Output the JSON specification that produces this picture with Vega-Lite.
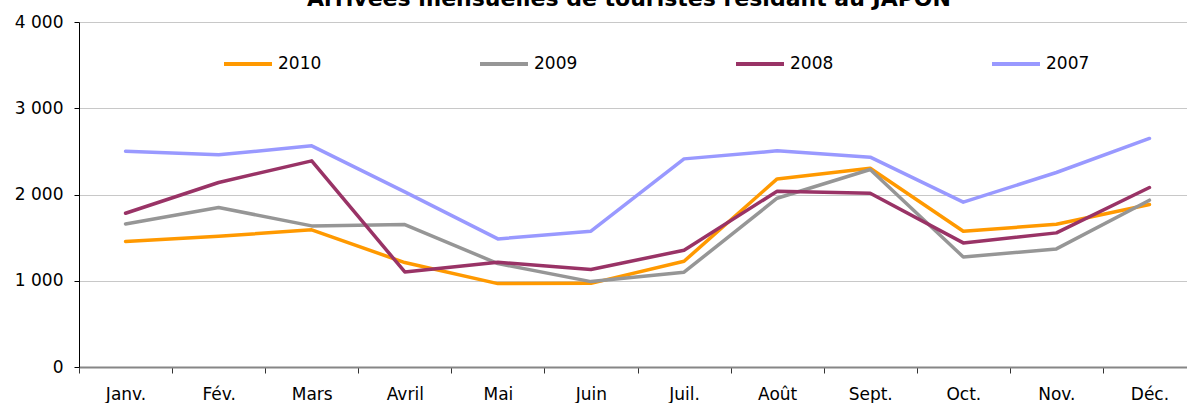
{
  "$schema": "https://vega.github.io/schema/vega-lite/v6.json",
  "autosize": {"type": "none"},
  "width": 1108,
  "height": 345,
  "padding": {"left": 79, "top": 22, "right": 0, "bottom": 36},
  "background": "white",
  "title": {
    "text": "Arrivées mensuelles de touristes résidant au JAPON",
    "font": "DejaVu Sans",
    "fontSize": 22,
    "fontWeight": "bold",
    "color": "#000000",
    "anchor": "middle",
    "frame": "group",
    "dx": -4,
    "baseline": "alphabetic",
    "offset": -15
  },
  "config": {"view": {"stroke": null}, "font": "DejaVu Sans"},
  "data": {
    "values": [
      {"mois": "Janv.", "annee": "2010", "arrivees": 1455},
      {"mois": "Fév.", "annee": "2010", "arrivees": 1516},
      {"mois": "Mars", "annee": "2010", "arrivees": 1590},
      {"mois": "Avril", "annee": "2010", "arrivees": 1211},
      {"mois": "Mai", "annee": "2010", "arrivees": 967},
      {"mois": "Juin", "annee": "2010", "arrivees": 970},
      {"mois": "Juil.", "annee": "2010", "arrivees": 1226},
      {"mois": "Août", "annee": "2010", "arrivees": 2181},
      {"mois": "Sept.", "annee": "2010", "arrivees": 2305},
      {"mois": "Oct.", "annee": "2010", "arrivees": 1574},
      {"mois": "Nov.", "annee": "2010", "arrivees": 1655},
      {"mois": "Déc.", "annee": "2010", "arrivees": 1884},
      {"mois": "Janv.", "annee": "2009", "arrivees": 1659},
      {"mois": "Fév.", "annee": "2009", "arrivees": 1849},
      {"mois": "Mars", "annee": "2009", "arrivees": 1636},
      {"mois": "Avril", "annee": "2009", "arrivees": 1652},
      {"mois": "Mai", "annee": "2009", "arrivees": 1199},
      {"mois": "Juin", "annee": "2009", "arrivees": 990},
      {"mois": "Juil.", "annee": "2009", "arrivees": 1099},
      {"mois": "Août", "annee": "2009", "arrivees": 1957},
      {"mois": "Sept.", "annee": "2009", "arrivees": 2290},
      {"mois": "Oct.", "annee": "2009", "arrivees": 1276},
      {"mois": "Nov.", "annee": "2009", "arrivees": 1369},
      {"mois": "Déc.", "annee": "2009", "arrivees": 1934},
      {"mois": "Janv.", "annee": "2008", "arrivees": 1783},
      {"mois": "Fév.", "annee": "2008", "arrivees": 2139},
      {"mois": "Mars", "annee": "2008", "arrivees": 2390},
      {"mois": "Avril", "annee": "2008", "arrivees": 1102},
      {"mois": "Mai", "annee": "2008", "arrivees": 1215},
      {"mois": "Juin", "annee": "2008", "arrivees": 1130},
      {"mois": "Juil.", "annee": "2008", "arrivees": 1354},
      {"mois": "Août", "annee": "2008", "arrivees": 2038},
      {"mois": "Sept.", "annee": "2008", "arrivees": 2015},
      {"mois": "Oct.", "annee": "2008", "arrivees": 1439},
      {"mois": "Nov.", "annee": "2008", "arrivees": 1555},
      {"mois": "Déc.", "annee": "2008", "arrivees": 2081},
      {"mois": "Janv.", "annee": "2007", "arrivees": 2502},
      {"mois": "Fév.", "annee": "2007", "arrivees": 2460},
      {"mois": "Mars", "annee": "2007", "arrivees": 2564},
      {"mois": "Avril", "annee": "2007", "arrivees": 2030},
      {"mois": "Mai", "annee": "2007", "arrivees": 1485},
      {"mois": "Juin", "annee": "2007", "arrivees": 1574},
      {"mois": "Juil.", "annee": "2007", "arrivees": 2413},
      {"mois": "Août", "annee": "2007", "arrivees": 2506},
      {"mois": "Sept.", "annee": "2007", "arrivees": 2433},
      {"mois": "Oct.", "annee": "2007", "arrivees": 1911},
      {"mois": "Nov.", "annee": "2007", "arrivees": 2255},
      {"mois": "Déc.", "annee": "2007", "arrivees": 2650}
    ]
  },
  "mark": {"type": "line", "strokeWidth": 3.5, "strokeCap": "round", "strokeJoin": "round"},
  "encoding": {
    "x": {
      "field": "mois",
      "type": "nominal",
      "sort": ["Janv.", "Fév.", "Mars", "Avril", "Mai", "Juin", "Juil.", "Août", "Sept.", "Oct.", "Nov.", "Déc."],
      "scale": {"type": "band", "range": [0, 1117], "paddingInner": 0, "paddingOuter": 0},
      "axis": {
        "title": null,
        "tickBand": "extent",
        "labelAngle": 0,
        "domainColor": "#868686",
        "domainWidth": 2,
        "tickColor": "#333333",
        "tickSize": 6,
        "labelFont": "DejaVu Sans",
        "labelFontSize": 17,
        "labelColor": "#000000",
        "labelPadding": 13,
        "grid": false
      }
    },
    "y": {
      "field": "arrivees",
      "type": "quantitative",
      "scale": {"domain": [0, 4000], "nice": false},
      "axis": {
        "title": null,
        "values": [0, 1000, 2000, 3000, 4000],
        "labelExpr": "replace(format(datum.value, ','), ',', ' ')",
        "domainColor": "#000000",
        "domainWidth": 1,
        "tickColor": "#000000",
        "tickSize": 5,
        "labelFont": "DejaVu Sans",
        "labelFontSize": 17,
        "labelColor": "#000000",
        "labelPadding": 11,
        "gridColor": "#c8c8c8",
        "gridWidth": 1
      }
    },
    "color": {
      "field": "annee",
      "type": "nominal",
      "scale": {"domain": ["2010", "2009", "2008", "2007"], "range": ["#ff9900", "#969696", "#993366", "#9999ff"]},
      "legend": {
        "orient": "none",
        "legendX": 143,
        "legendY": 16,
        "direction": "horizontal",
        "columns": 4,
        "title": null,
        "symbolType": "stroke",
        "symbolSize": 2304,
        "symbolStrokeWidth": 4,
        "labelFont": "DejaVu Sans",
        "labelFontSize": 17,
        "labelColor": "#000000",
        "labelOffset": 4,
        "columnPadding": 150,
        "padding": 0
      }
    }
  }
}
